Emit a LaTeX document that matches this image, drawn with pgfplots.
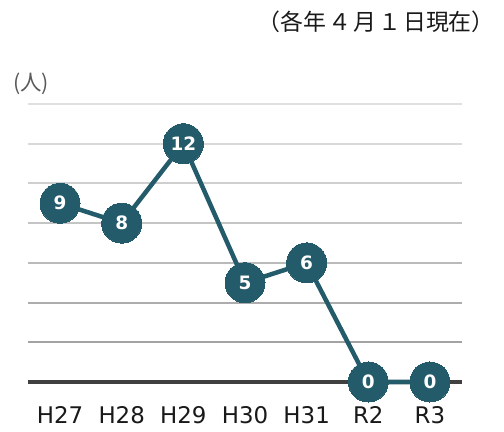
\documentclass[border=0pt]{standalone}
\usepackage{pgfplots}
\pgfplotsset{compat=1.18}
\usepackage{fontspec}
\setmainfont{DejaVu Sans}
\newfontfamily\jp{Noto Sans CJK JP}
\definecolor{teal}{HTML}{235B6A}
\definecolor{base}{HTML}{404040}
\begin{document}
\begin{tikzpicture}
\begin{axis}[
  at={(28bp,50bp)}, anchor=south west,
  scale only axis, width=434bp, height=278bp,
  xmin=-0.52, xmax=6.52, ymin=0, ymax=14,
  axis line style={draw=none},
  major tick length=0pt,
  xtick={0,1,2,3,4,5,6},
  xticklabels={H27,H28,H29,H30,H31,R2,R3},
  ytick=\empty,
  x tick label style={font=\fontsize{23}{26}\selectfont, text=black!90, yshift=-21bp},
  clip=false,
  nodes near coords={\pgfmathprintnumber[assume math mode=true]{\pgfplotspointmeta}},
  every node near coord/.append style={anchor=center, text=white, font=\bfseries\fontsize{18.5}{20}\selectfont},
]
\draw[line width=2bp, color=black!36] (axis cs:-0.52,2) -- (axis cs:6.52,2);
\draw[line width=2bp, color=black!32] (axis cs:-0.52,4) -- (axis cs:6.52,4);
\draw[line width=2bp, color=black!27] (axis cs:-0.52,6) -- (axis cs:6.52,6);
\draw[line width=2bp, color=black!23] (axis cs:-0.52,8) -- (axis cs:6.52,8);
\draw[line width=2bp, color=black!19] (axis cs:-0.52,10) -- (axis cs:6.52,10);
\draw[line width=2bp, color=black!15] (axis cs:-0.52,12) -- (axis cs:6.52,12);
\draw[line width=2bp, color=black!12] (axis cs:-0.52,14) -- (axis cs:6.52,14);
\draw[line width=3bp, color=base] (axis cs:-0.52,0) -- (axis cs:6.52,0);
\addplot[color=teal, line width=4.5bp, mark=*, mark size=20bp, mark options={fill=teal, draw=teal, line width=0pt}]
  coordinates {(0,9) (1,8) (2,12) (3,5) (4,6) (5,0) (6,0)};
\end{axis}
\node[anchor=east, font=\jp\fontsize{23}{26}\selectfont, inner sep=0pt, text=black!90] at (495bp,410bp) {（各年\hspace{2bp}４\hspace{2bp}月\hspace{2bp}１\hspace{2bp}日現在）};
\node[anchor=west, font=\jp\fontsize{21.5}{24}\selectfont, text=black!65, inner sep=0pt] at (13bp,348bp) {(人)};
\path[use as bounding box] (0,0) rectangle (504bp,432bp);
\end{tikzpicture}
\end{document}
